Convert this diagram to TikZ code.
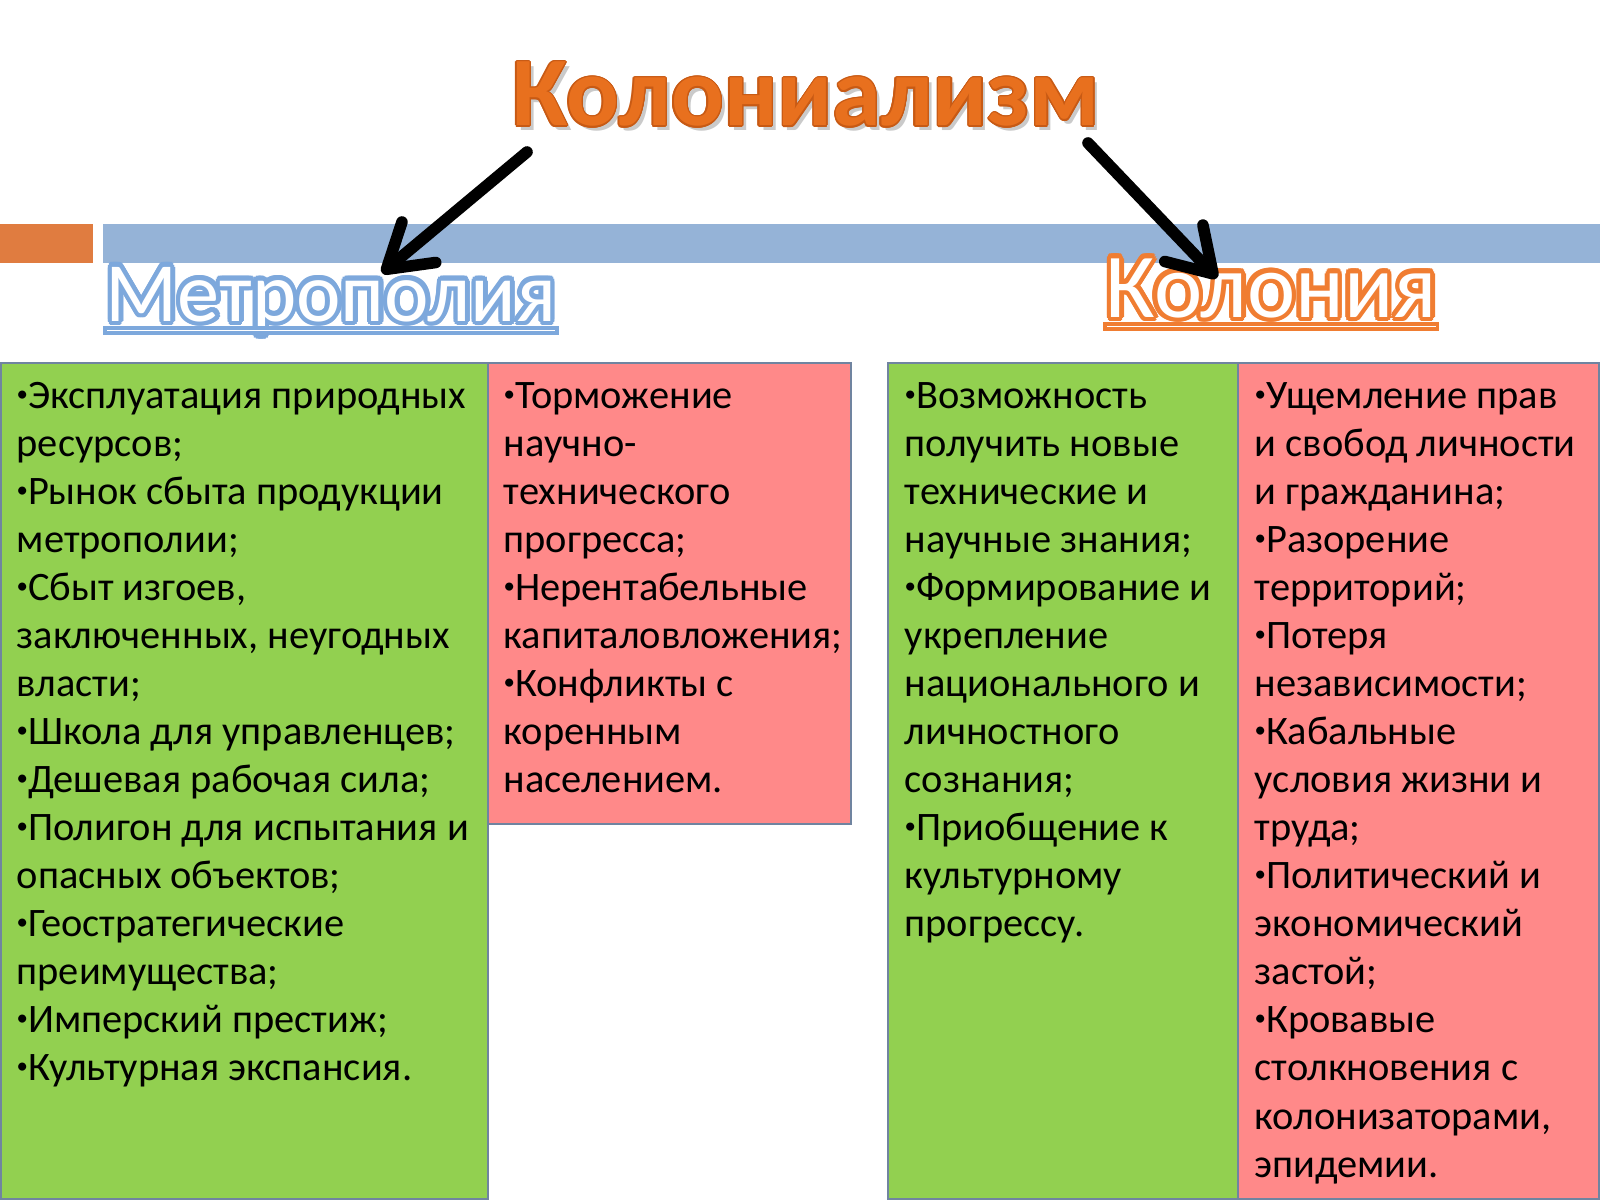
\documentclass[tikz,border=0pt]{standalone}
\usepackage{fontspec}
\setmainfont{Carlito}
\usepackage{contour}
\usetikzlibrary{arrows.meta}

\definecolor{leafgreen}{RGB}{146,208,80}
\definecolor{rosered}{RGB}{255,137,137}
\definecolor{barblue}{RGB}{149,179,215}
\definecolor{barorange}{RGB}{224,124,64}
\definecolor{framegray}{RGB}{112,132,160}
\definecolor{titleorange}{RGB}{232,112,30}
\definecolor{titleedge}{RGB}{200,90,20}
\definecolor{metroblue}{RGB}{125,168,220}
\definecolor{colorange}{RGB}{240,125,50}

\newcommand\bul{\raisebox{2pt}{\fontsize{6.5}{6.5}\selectfont•}}

\tikzset{
  panel/.style={fill=#1, draw=framegray, line width=0.6pt},
  listtext/.style={anchor=north west, inner sep=0pt, align=left,
    font=\fontsize{11.5}{13.66}\selectfont},
  heading/.style={anchor=base west, inner sep=0pt, font=\fontsize{#1}{#1}\selectfont},
  bigarrow/.style={line width=3.3pt, line cap=round,
    -{Straight Barb[length=12pt, width=15pt, round]}}
}

\begin{document}
\begin{tikzpicture}
  \useasboundingbox (0,0) rectangle (16,12);

  % bars
  \fill[barorange] (0,9.37) rectangle (0.93,9.76);
  \fill[barblue] (1.03,9.37) rectangle (16,9.76);

  % title
  \node[anchor=base, inner sep=0pt, text=black!35, opacity=0.6,
    font=\fontsize{28}{28}\selectfont\bfseries] at (8.10,10.69) {Колониализм};
  \node (title) [anchor=base, inner sep=0pt, font=\fontsize{28}{28}\selectfont\bfseries]
    at (8.06,10.74) {\contourlength{0.4pt}\contour{titleedge}{\textcolor{titleorange}{Колониализм}}};

  % headings
  \node (metro) [heading=24] at (1.05,8.79)
    {\contourlength{1.3pt}\contour{metroblue}{\textcolor{white}{Метрополия}}};
  \node (colony) [heading=26] at (11.05,8.83)
    {\contourlength{1.3pt}\contour{colorange}{\textcolor{white}{Колония}}};
  \fill[white, draw=metroblue, line width=1pt]
    ([yshift=-0.12cm]metro.base west) rectangle ([yshift=-0.07cm]metro.base east);
  \fill[white, draw=colorange, line width=1pt]
    ([yshift=-0.12cm]colony.base west) rectangle ([yshift=-0.07cm]colony.base east);

  % arrows
  \coordinate (leftstart) at (5.27,10.48);
  \coordinate (leftend) at (3.82,9.27);
  \coordinate (rightstart) at (10.88,10.57);
  \coordinate (rightend) at (12.17,9.22);
  \draw[bigarrow] (leftstart) -- (leftend);
  \draw[bigarrow] (rightstart) -- (rightend);

  % panels
  \draw[panel=leafgreen] (0.01,0.01) rectangle (4.88,8.37);
  \draw[panel=rosered] (4.88,3.76) rectangle (8.51,8.37);
  \draw[panel=leafgreen] (8.88,0.01) rectangle (12.38,8.37);
  \draw[panel=rosered] (12.38,0.01) rectangle (15.99,8.37);

  \node (metroplus) [listtext] at (0.16,8.27) {\rule{0pt}{10pt}\bul Эксплуатация природных\\
    ресурсов;\\ \bul Рынок сбыта продукции\\ метрополии;\\ \bul Сбыт изгоев,\\
    заключенных, неугодных\\ власти;\\ \bul Школа для управленцев;\\
    \bul Дешевая рабочая сила;\\ \bul Полигон для испытания и\\ опасных объектов;\\
    \bul Геостратегические\\ преимущества;\\ \bul Имперский престиж;\\
    \bul Культурная экспансия.};
  \node (metrominus) [listtext] at (5.03,8.27) {\rule{0pt}{10pt}\bul Торможение\\
    научно-\\ технического\\ прогресса;\\ \bul Нерентабельные\\
    капиталовложения;\\ \bul Конфликты с\\ коренным\\ населением.};
  \node (colplus) [listtext] at (9.04,8.27) {\rule{0pt}{10pt}\bul Возможность\\
    получить новые\\ технические и\\ научные знания;\\ \bul Формирование и\\
    укрепление\\ национального и\\ личностного\\ сознания;\\
    \bul Приобщение к\\ культурному\\ прогрессу.};
  \node (colminus) [listtext] at (12.54,8.27) {\rule{0pt}{10pt}\bul Ущемление прав\\
    и свобод личности\\ и гражданина;\\ \bul Разорение\\ территорий;\\
    \bul Потеря\\ независимости;\\ \bul Кабальные\\ условия жизни и\\ труда;\\
    \bul Политический и\\ экономический\\ застой;\\ \bul Кровавые\\
    столкновения с\\ колонизаторами,\\ эпидемии.};
\end{tikzpicture}
\end{document}
